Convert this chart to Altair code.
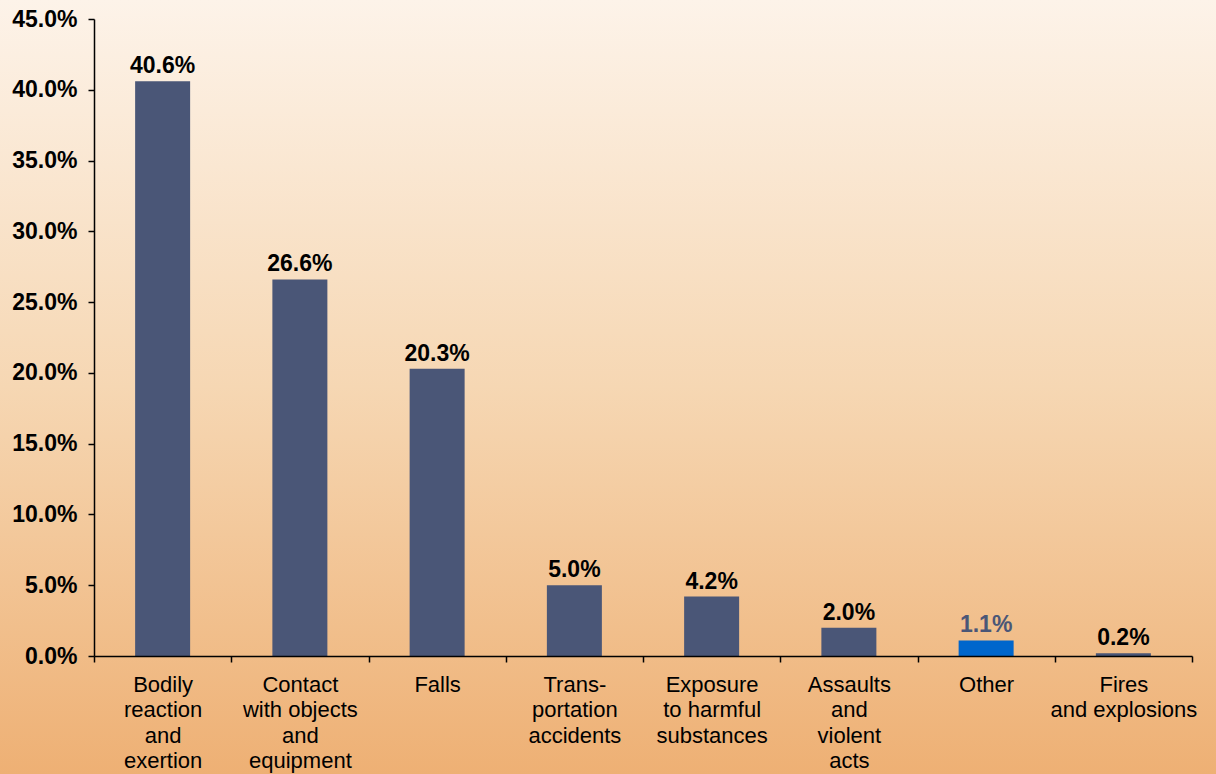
import altair as alt
import pandas as pd

categories = ["Bodily\nreaction\nand\nexertion", "Contact\nwith objects\nand\nequipment", "Falls",
              "Trans-\nportation\naccidents", "Exposure\nto harmful\nsubstances",
              "Assaults\nand\nviolent\nacts", "Other", "Fires\nand explosions"]
values = [0.406, 0.266, 0.203, 0.050, 0.042, 0.020, 0.011, 0.002]
bar_colors = ["#4A5677", "#4A5677", "#4A5677", "#4A5677", "#4A5677", "#4A5677", "#0066CC", "#4A5677"]
label_colors = ["#000000", "#000000", "#000000", "#000000", "#000000", "#000000", "#4A5677", "#000000"]
y_ticks = [0.0, 0.05, 0.10, 0.15, 0.20, 0.25, 0.30, 0.35, 0.40, 0.45]

df = pd.DataFrame({"cat": categories, "val": values, "bc": bar_colors, "lc": label_colors})

W, H = 1098, 637
PL, PT = 94, 19

bg = alt.Chart(alt.Data(values=[{}])).mark_rect(
    clip=False,
    fill={"gradient": "linear", "x1": 0, "y1": 0, "x2": 0, "y2": 1,
          "stops": [{"offset": 0, "color": "#FDF3E9"},
                    {"offset": 0.5, "color": "#F6D7B3"},
                    {"offset": 1, "color": "#EEB074"}]},
).encode(x=alt.value(-PL), x2=alt.value(1216 - PL), y=alt.value(-PT), y2=alt.value(774 - PT))

x_enc = alt.X("cat:N", sort=None, title=None,
              scale=alt.Scale(paddingInner=0, paddingOuter=0),
              axis=alt.Axis(labelExpr="split(datum.label, '\\n')", labelAngle=0,
                            labelFont="Liberation Sans", labelFontSize=22, labelColor="#000000",
                            labelLineHeight=25.5, labelPadding=12, tickSize=6,
                            tickBand="extent", domainColor="#000000", tickColor="#000000",
                            labelLimit=300, zindex=2))
y_enc = alt.Y("val:Q", title=None, scale=alt.Scale(domain=[0, 0.45], nice=False),
              axis=alt.Axis(values=y_ticks, format=".1%", grid=False,
                            labelFont="Liberation Sans", labelFontSize=23, labelFontWeight="bold",
                            labelColor="#000000", labelPadding=11, tickSize=6,
                            domainColor="#000000", tickColor="#000000", zindex=2))

bars = alt.Chart(df).mark_bar(size=55).encode(
    x=x_enc, y=y_enc, color=alt.Color("bc:N", scale=None))

labels = alt.Chart(df).mark_text(
    font="Liberation Sans", fontSize=23, fontWeight="bold", baseline="bottom", dy=-3
).encode(x=alt.X("cat:N", sort=None), y="val:Q", text=alt.Text("val:Q", format=".1%"),
         color=alt.Color("lc:N", scale=None))

chart = alt.layer(bg, bars, labels).properties(
    width=W, height=H,
    autosize=alt.AutoSizeParams(type="none"),
    padding={"left": PL, "top": PT, "right": 1216 - PL - W, "bottom": 774 - PT - H},
).configure_view(stroke=None).configure_axis(domainWidth=1.5, tickWidth=1.5)

chart.save("out.html", embed_options={"renderer": "svg", "actions": False})
